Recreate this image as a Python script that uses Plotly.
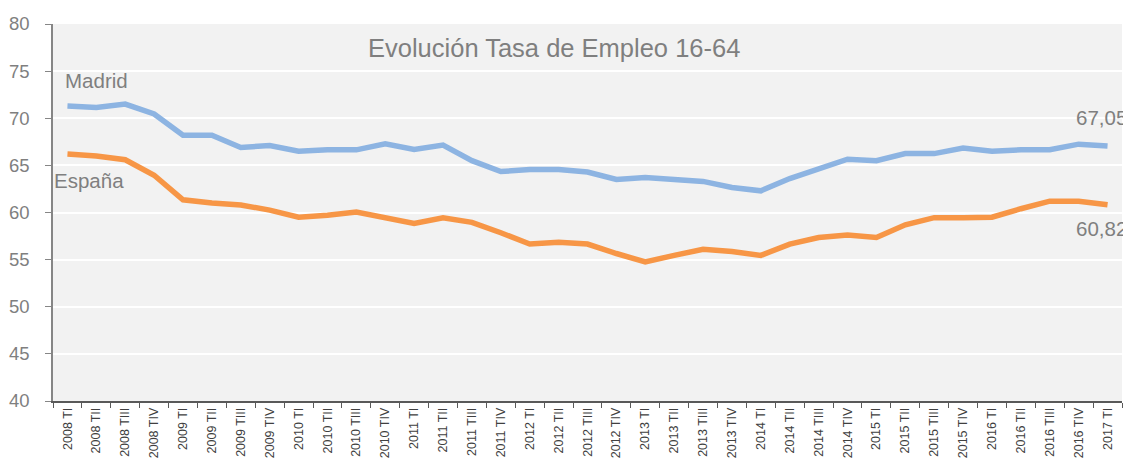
import plotly.graph_objects as go

categories = [f"{y} {q}" for y in range(2008, 2018) for q in ["TI", "TII", "TIII", "TIV"]][:37]

madrid = [71.3, 71.15, 71.5, 70.45, 68.2, 68.2, 66.9, 67.1, 66.5, 66.65, 66.65, 67.3,
          66.7, 67.15, 65.5, 64.35, 64.55, 64.55, 64.3, 63.5, 63.7, 63.55, 63.3, 62.65,
          62.3, 63.6, 64.7, 65.65, 65.5, 66.25, 66.25, 66.85, 66.5, 66.65, 66.65, 67.25, 67.05]

espana = [66.2, 66.0, 65.6, 63.95, 61.35, 61.0, 60.8, 60.25, 59.5, 59.7, 60.05, 59.5,
          58.85, 59.45, 58.95, 57.85, 56.65, 56.85, 56.65, 55.65, 54.75, 55.45, 56.1, 55.85,
          55.45, 56.65, 57.35, 57.6, 57.35, 58.7, 59.45, 59.45, 59.5, 60.4, 61.2, 61.2, 60.82]

title_text = "Evolución Tasa de Empleo 16-64"
series_names = ["Madrid", "España"]

BLUE = "#8DB4E2"
ORANGE = "#F79646"
GRAY = "#7F7F7F"
FONT = "Liberation Sans, Arial, sans-serif"

fig = go.Figure()
fig.add_trace(go.Scatter(x=categories, y=madrid, mode="lines", name=series_names[0],
                         line=dict(color=BLUE, width=5.5)))
fig.add_trace(go.Scatter(x=categories, y=espana, mode="lines", name=series_names[1],
                         line=dict(color=ORANGE, width=5.5)))

def fmt(v):
    return f"{v:.2f}".replace(".", ",")

annotations = [
    dict(text=title_text, xref="paper", yref="paper", x=0.469, y=0.936,
         xanchor="center", yanchor="middle", showarrow=False,
         font=dict(size=25.5, color=GRAY, family=FONT)),
    dict(text=series_names[0], xref="x", yref="y", x=categories[0], y=74.0,
         xanchor="left", yanchor="middle", xshift=-4, showarrow=False,
         font=dict(size=20.5, color=GRAY, family=FONT)),
    dict(text=series_names[1], xref="x", yref="y", x=categories[0], y=63.35,
         xanchor="left", yanchor="middle", xshift=-15, showarrow=False,
         font=dict(size=20.5, color=GRAY, family=FONT)),
    dict(text=fmt(madrid[-1]), xref="x", yref="y", x=categories[-1], y=70.05,
         xanchor="right", yanchor="middle", xshift=21, showarrow=False,
         font=dict(size=20.5, color=GRAY, family=FONT)),
    dict(text=fmt(espana[-1]), xref="x", yref="y", x=categories[-1], y=58.3,
         xanchor="right", yanchor="middle", xshift=21, showarrow=False,
         font=dict(size=20.5, color=GRAY, family=FONT)),
]

# page body has an 8px default margin: size the figure to fit the 1131x462 window
fig.update_layout(
    width=1123, height=454,
    margin=dict(l=45, r=9, t=16, b=61, autoexpand=False),
    paper_bgcolor="white",
    plot_bgcolor="#F2F2F2",
    showlegend=False,
    font=dict(family=FONT, color=GRAY),
    annotations=annotations,
)

fig.update_xaxes(
    type="category",
    tickangle=-90,
    tickfont=dict(size=12.5, color="#404040", family=FONT),
    ticks="outside", tickson="boundaries", ticklen=5, tickcolor="#595959",
    showline=True, linecolor="#595959", linewidth=1.5,
    showgrid=False, zeroline=False, automargin=False,
    range=[-0.5, len(categories) - 0.5],
)

fig.update_yaxes(
    range=[40, 80], dtick=5, tick0=40,
    tickfont=dict(size=18.5, color=GRAY, family=FONT),
    ticks="outside", ticklen=6, tickcolor="#868686",
    ticklabelstandoff=12,
    showline=True, linecolor="#868686", linewidth=1.5,
    showgrid=True, gridcolor="white", gridwidth=2,
    zeroline=False, automargin=False,
)

fig.write_html("out.html")
